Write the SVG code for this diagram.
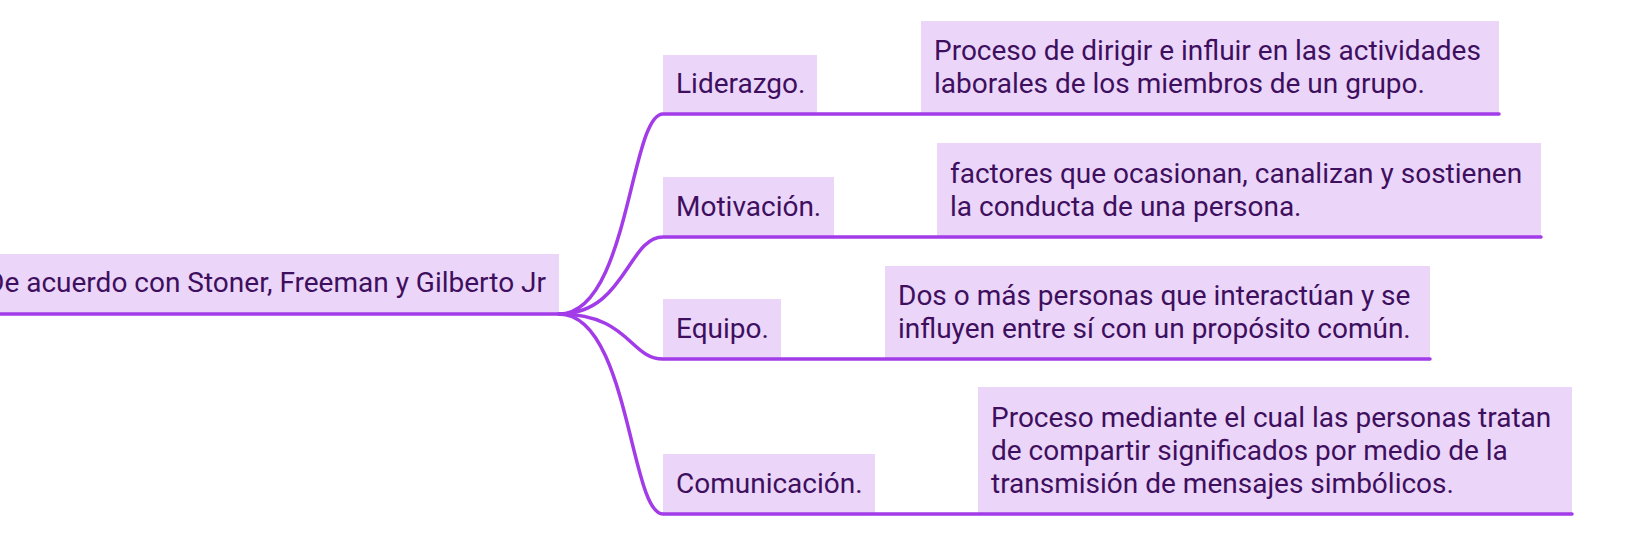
<svg xmlns="http://www.w3.org/2000/svg" width="1648" height="556" viewBox="0 0 1648 556">
  <style>
    .box { fill: #EBD5F8; }
    .t { font-family: Roboto, "Liberation Sans", sans-serif; font-size: 28px; fill: #3E0F5E; }
    .ln { fill: none; stroke: #A23BE8; stroke-width: 3.5; stroke-linecap: round; }
  </style>
  <rect width="1648" height="556" fill="#FFFFFF"/>
  <g id="root">
    <rect class="box" x="0" y="254" width="559" height="60"/>
    <text class="t" x="546" y="292" text-anchor="end">De acuerdo con Stoner, Freeman y Gilberto Jr</text>
  </g>
  <g id="liderazgo">
    <rect class="box" x="663" y="55" width="154" height="59"/>
    <text class="t" x="676" y="93">Liderazgo.</text>
  </g>
  <g id="liderazgo-desc">
    <rect class="box" x="921" y="21" width="578" height="93"/>
    <text class="t" x="934" y="60">Proceso de dirigir e influir en las actividades</text>
    <text class="t" x="934" y="93">laborales de los miembros de un grupo.</text>
  </g>
  <g id="motivacion">
    <rect class="box" x="663" y="177" width="171" height="60"/>
    <text class="t" x="676" y="216">Motivación.</text>
  </g>
  <g id="motivacion-desc">
    <rect class="box" x="937" y="143" width="604" height="94"/>
    <text class="t" x="950" y="183">factores que ocasionan, canalizan y sostienen</text>
    <text class="t" x="950" y="216">la conducta de una persona.</text>
  </g>
  <g id="equipo">
    <rect class="box" x="663" y="299" width="118" height="60"/>
    <text class="t" x="676" y="338">Equipo.</text>
  </g>
  <g id="equipo-desc">
    <rect class="box" x="885" y="266" width="545" height="93"/>
    <text class="t" x="898" y="305">Dos o más personas que interactúan y se</text>
    <text class="t" x="898" y="338">influyen entre sí con un propósito común.</text>
  </g>
  <g id="comunicacion">
    <rect class="box" x="663" y="454" width="212" height="60"/>
    <text class="t" x="676" y="493">Comunicación.</text>
  </g>
  <g id="comunicacion-desc">
    <rect class="box" x="978" y="387" width="594" height="127"/>
    <text class="t" x="991" y="427">Proceso mediante el cual las personas tratan</text>
    <text class="t" x="991" y="460">de compartir significados por medio de la</text>
    <text class="t" x="991" y="493">transmisión de mensajes simbólicos.</text>
  </g>
  <g id="connectors">
    <path class="ln" d="M0 314 H559"/>
    <path class="ln" d="M559 314 C629 314 630 114 663 114 H1499"/>
    <path class="ln" d="M559 314 C625 314 628 237 663 237 H1541"/>
    <path class="ln" d="M559 314 C629 314 630 359 663 359 H1430"/>
    <path class="ln" d="M559 314 C629 314 630 514 663 514 H1572"/>
  </g>
</svg>
